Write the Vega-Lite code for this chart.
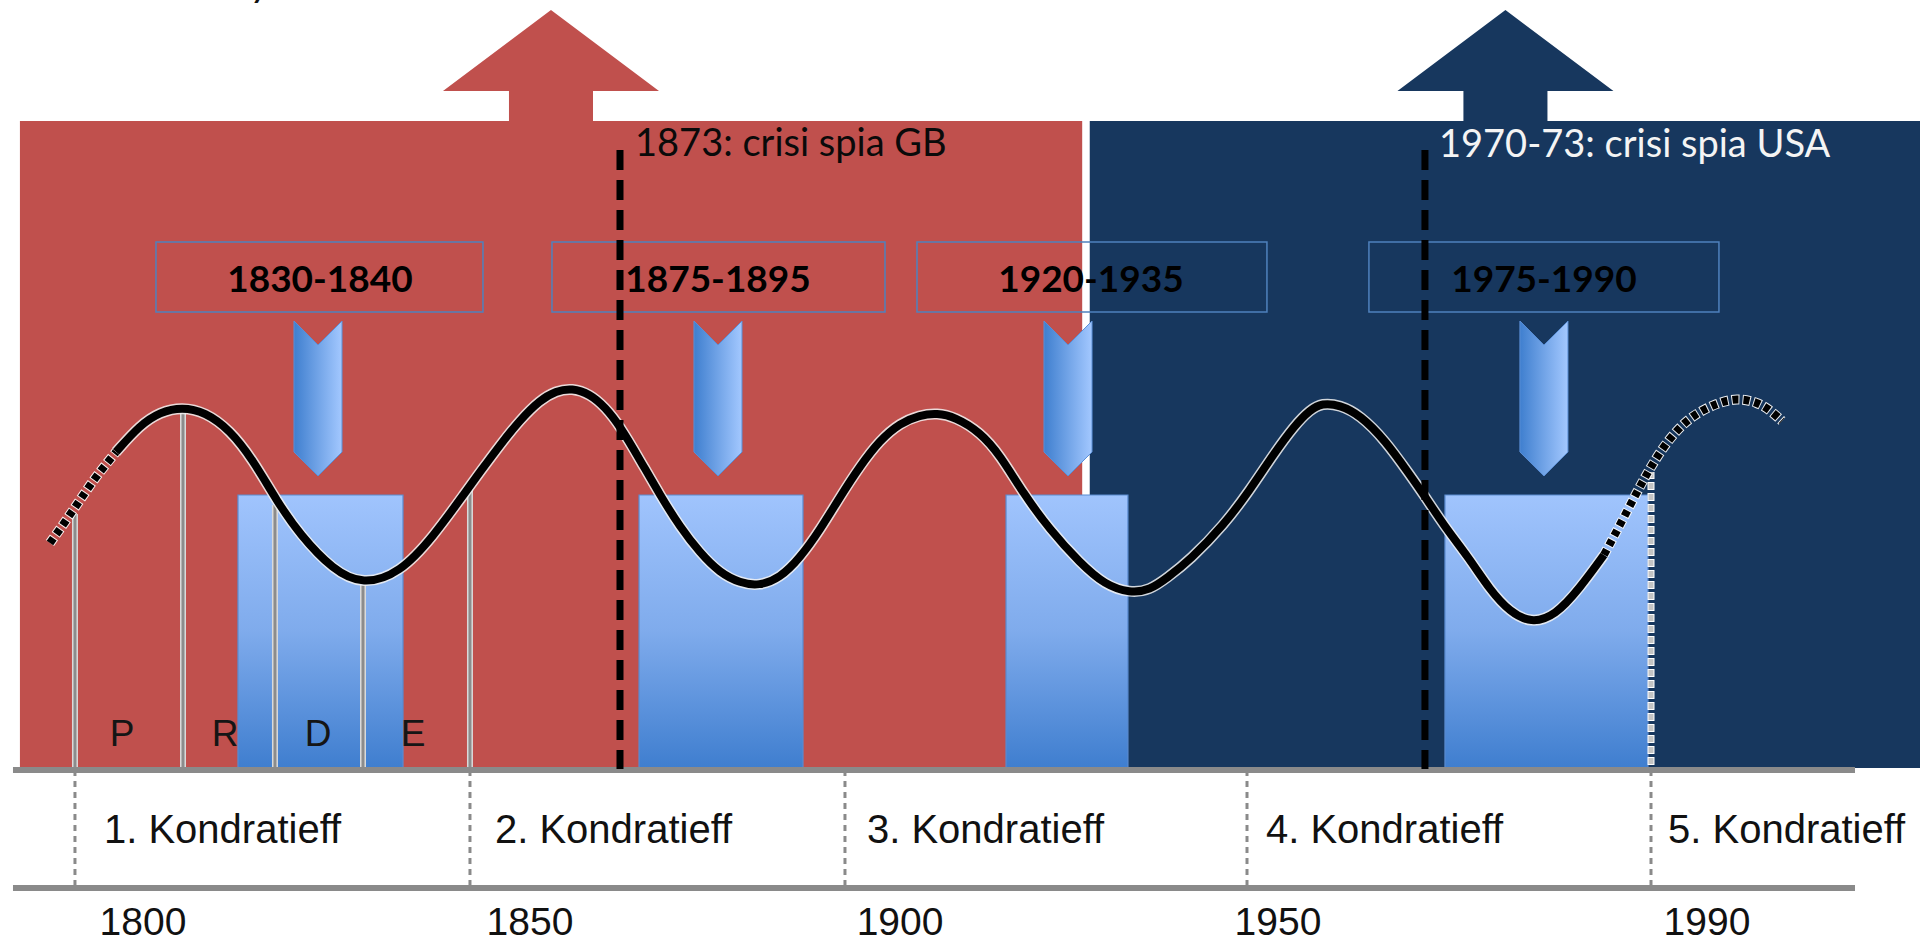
{
  "$schema": "https://vega.github.io/schema/vega-lite/v6.json",
  "width": 1920,
  "height": 943,
  "autosize": "none",
  "padding": 0,
  "background": "white",
  "config": {"view": {"stroke": null}},
  "datasets": {
    "arrows": [
      {"region": "GB", "x": 1853.84, "y": 92.84},
      {"region": "USA", "x": 1980.26, "y": 92.84}
    ],
    "regions": [
      {"region": "GB", "x": 1783.5, "x2": 1924.2, "y": 87.17, "y2": 18.66},
      {"region": "USA", "x": 1925.2, "x2": 2035.17, "y": 87.17, "y2": 18.56}
    ],
    "crisisBoxes": [
      {"x": 1812.38, "x2": 1834.24, "y": 47.51, "y2": 18.56},
      {"x": 1865.50, "x2": 1887.22, "y": 47.51, "y2": 18.56},
      {"x": 1914.11, "x2": 1930.26, "y": 47.51, "y2": 18.56},
      {"x": 1972.25, "x2": 1999.14, "y": 47.51, "y2": 18.56}
    ],
    "phaseLines": [
      {"x": 1790.79, "y": 45.49, "y2": 18.35},
      {"x": 1805.10, "y": 56.84, "y2": 18.35},
      {"x": 1817.28, "y": 46.45, "y2": 18.35},
      {"x": 1828.94, "y": 37.96, "y2": 18.35},
      {"x": 1843.11, "y": 48.46, "y2": 18.35}
    ],
    "phaseLetters": [
      {"label": "P", "x": 1797.02, "y": 20.89},
      {"label": "R", "x": 1810.66, "y": 20.89},
      {"label": "D", "x": 1822.98, "y": 20.89},
      {"label": "E", "x": 1835.56, "y": 20.89}
    ],
    "separators": [
      {"x": 1790.79, "y": 18.35, "y2": 5.83},
      {"x": 1843.11, "y": 18.35, "y2": 5.83},
      {"x": 1892.78, "y": 18.35, "y2": 5.83},
      {"x": 1946.03, "y": 18.35, "y2": 5.83},
      {"x": 1999.54, "y": 18.35, "y2": 5.83}
    ],
    "future": [
      {"x": 1999.54, "y": 49.95, "y2": 18.35}
    ],
    "baselines": [
      {"x": 1782.58, "x2": 2026.56, "y": 18.35},
      {"x": 1782.58, "x2": 2026.56, "y": 5.83}
    ],
    "labelBoxes": [
      {"x": 1801.52, "x2": 1844.83, "y": 74.34, "y2": 66.91},
      {"x": 1853.97, "x2": 1898.08, "y": 74.34, "y2": 66.91},
      {"x": 1902.32, "x2": 1948.67, "y": 74.34, "y2": 66.91},
      {"x": 1962.18, "x2": 2008.54, "y": 74.34, "y2": 66.91}
    ],
    "periods": [
      {"label": "1830-1840", "x": 1823.24, "y": 69.03},
      {"label": "1875-1895", "x": 1875.96, "y": 69.03},
      {"label": "1920-1935", "x": 1925.36, "y": 69.03},
      {"label": "1975-1990", "x": 1985.36, "y": 69.03}
    ],
    "chevrons": [
      {"x": 1822.98, "y": 57.74},
      {"x": 1875.96, "y": 57.74},
      {"x": 1922.32, "y": 57.74},
      {"x": 1985.36, "y": 57.74}
    ],
    "curve": [
      {"s": "pre", "x": 1787.48, "y": 42.42},
      {"s": "pre", "x": 1789.47, "y": 44.64},
      {"s": "pre", "x": 1791.46, "y": 46.98},
      {"s": "pre", "x": 1793.44, "y": 49.31},
      {"s": "pre", "x": 1795.16, "y": 51.01},
      {"s": "pre", "x": 1796.22, "y": 52.07},
      {"s": "main", "x": 1796.22, "y": 52.07},
      {"s": "main", "x": 1799.40, "y": 54.93},
      {"s": "main", "x": 1802.05, "y": 56.31},
      {"s": "main", "x": 1804.97, "y": 56.84},
      {"s": "main", "x": 1808.01, "y": 56.31},
      {"s": "main", "x": 1811.32, "y": 54.40},
      {"s": "main", "x": 1814.37, "y": 51.22},
      {"s": "main", "x": 1817.55, "y": 46.84},
      {"s": "main", "x": 1820.60, "y": 43.28},
      {"s": "main", "x": 1824.97, "y": 39.55},
      {"s": "main", "x": 1828.94, "y": 37.96},
      {"s": "main", "x": 1833.84, "y": 39.24},
      {"s": "main", "x": 1838.21, "y": 43.05},
      {"s": "main", "x": 1842.71, "y": 48.04},
      {"s": "main", "x": 1844.44, "y": 49.95},
      {"s": "main", "x": 1847.09, "y": 52.81},
      {"s": "main", "x": 1849.73, "y": 55.46},
      {"s": "main", "x": 1852.38, "y": 57.58},
      {"s": "main", "x": 1854.50, "y": 58.54},
      {"s": "main", "x": 1856.62, "y": 58.85},
      {"s": "main", "x": 1859.01, "y": 58.22},
      {"s": "main", "x": 1860.99, "y": 56.84},
      {"s": "main", "x": 1862.98, "y": 54.83},
      {"s": "main", "x": 1865.63, "y": 51.22},
      {"s": "main", "x": 1868.28, "y": 47.51},
      {"s": "main", "x": 1870.93, "y": 44.11},
      {"s": "main", "x": 1873.58, "y": 41.36},
      {"s": "main", "x": 1876.22, "y": 39.24},
      {"s": "main", "x": 1878.87, "y": 38.18},
      {"s": "main", "x": 1881.39, "y": 37.86},
      {"s": "main", "x": 1884.17, "y": 38.71},
      {"s": "main", "x": 1886.82, "y": 40.83},
      {"s": "main", "x": 1889.47, "y": 43.80},
      {"s": "main", "x": 1892.12, "y": 47.30},
      {"s": "main", "x": 1894.77, "y": 50.58},
      {"s": "main", "x": 1897.42, "y": 53.34},
      {"s": "main", "x": 1900.07, "y": 55.14},
      {"s": "main", "x": 1902.71, "y": 55.99},
      {"s": "main", "x": 1904.97, "y": 56.20},
      {"s": "main", "x": 1907.35, "y": 55.78},
      {"s": "main", "x": 1910.66, "y": 54.19},
      {"s": "main", "x": 1913.31, "y": 51.75},
      {"s": "main", "x": 1916.36, "y": 47.72},
      {"s": "main", "x": 1919.93, "y": 43.80},
      {"s": "main", "x": 1923.91, "y": 40.30},
      {"s": "main", "x": 1927.22, "y": 37.96},
      {"s": "main", "x": 1930.53, "y": 37.12},
      {"s": "main", "x": 1933.18, "y": 37.43},
      {"s": "main", "x": 1935.43, "y": 38.71},
      {"s": "main", "x": 1938.48, "y": 40.62},
      {"s": "main", "x": 1942.98, "y": 44.33},
      {"s": "main", "x": 1946.42, "y": 48.04},
      {"s": "main", "x": 1949.47, "y": 51.75},
      {"s": "main", "x": 1952.38, "y": 54.93},
      {"s": "main", "x": 1954.37, "y": 56.52},
      {"s": "main", "x": 1955.96, "y": 57.26},
      {"s": "main", "x": 1958.34, "y": 57.05},
      {"s": "main", "x": 1960.99, "y": 55.99},
      {"s": "main", "x": 1964.30, "y": 53.34},
      {"s": "main", "x": 1967.61, "y": 49.63},
      {"s": "main", "x": 1969.47, "y": 47.51},
      {"s": "main", "x": 1972.25, "y": 44.11},
      {"s": "main", "x": 1975.43, "y": 40.83},
      {"s": "main", "x": 1978.21, "y": 37.43},
      {"s": "main", "x": 1980.86, "y": 35.10},
      {"s": "main", "x": 1983.64, "y": 33.93},
      {"s": "main", "x": 1986.82, "y": 34.68},
      {"s": "main", "x": 1990.13, "y": 37.65},
      {"s": "main", "x": 1993.31, "y": 41.15},
      {"s": "post", "x": 1993.31, "y": 41.15},
      {"s": "post", "x": 1995.43, "y": 44.33},
      {"s": "post", "x": 1997.68, "y": 47.83},
      {"s": "post", "x": 1999.14, "y": 49.95},
      {"s": "post", "x": 2000.73, "y": 52.07},
      {"s": "post", "x": 2002.71, "y": 54.19},
      {"s": "post", "x": 2005.10, "y": 55.99},
      {"s": "post", "x": 2008.28, "y": 57.26},
      {"s": "post", "x": 2010.93, "y": 57.79},
      {"s": "post", "x": 2013.58, "y": 57.37},
      {"s": "post", "x": 2015.30, "y": 56.52},
      {"s": "post", "x": 2016.89, "y": 55.36}
    ],
    "crises": [
      {"region": "GB", "x": 1862.98, "y": 84.09, "y2": 18.45},
      {"region": "USA", "x": 1969.60, "y": 84.09, "y2": 18.45}
    ],
    "crisisNotes": [
      {"region": "GB", "label": "1873: crisi spia GB", "x": 1864.97, "y": 83.46},
      {"region": "USA", "label": "1970-73: crisi spia USA", "x": 1971.46, "y": 83.35}
    ],
    "waves": [
      {"label": "1. Kondratieff", "x": 1794.63, "y": 10.60},
      {"label": "2. Kondratieff", "x": 1846.42, "y": 10.60},
      {"label": "3. Kondratieff", "x": 1895.69, "y": 10.60},
      {"label": "4. Kondratieff", "x": 1948.54, "y": 10.60},
      {"label": "5. Kondratieff", "x": 2001.79, "y": 10.60}
    ],
    "years": [
      {"label": "1800", "x": 1799.80, "y": 0.85},
      {"label": "1850", "x": 1851.06, "y": 0.85},
      {"label": "1900", "x": 1900.07, "y": 0.85},
      {"label": "1950", "x": 1950.13, "y": 0.85},
      {"label": "1990", "x": 2006.95, "y": 0.85}
    ],
    "title": [
      {"label": "y", "x": 1815.5, "y": 100.4}
    ]
  },
  "encoding": {
    "x": {"field": "x", "type": "quantitative", "scale": {"domain": [1780.86, 2035.17], "nice": false, "zero": false}, "axis": null},
    "y": {"field": "y", "type": "quantitative", "scale": {"domain": [0, 100], "nice": false, "zero": false}, "axis": null}
  },
  "layer": [
    {
      "data": {"name": "title"},
      "mark": {"type": "text", "font": "Lato", "fontSize": 40, "fontStyle": "italic", "align": "center", "baseline": "alphabetic", "color": "#111111"},
      "encoding": {"text": {"field": "label"}}
    },
    {
      "data": {"name": "arrows"},
      "mark": {"type": "point", "shape": "M 0 -0.532 L 1 0.218 L 0.389 0.218 L 0.389 0.54 L -0.389 0.54 L -0.389 0.218 L -1 0.218 Z", "size": 46656, "filled": true, "opacity": 1, "strokeWidth": 0},
      "encoding": {"color": {"field": "region", "type": "nominal", "scale": {"domain": ["GB", "USA"], "range": ["#C0504D", "#17375E"]}, "legend": null}}
    },
    {
      "data": {"name": "regions"},
      "mark": {"type": "rect"},
      "encoding": {
        "x2": {"field": "x2"},
        "y2": {"field": "y2"},
        "color": {"field": "region", "type": "nominal", "scale": {"domain": ["GB", "USA"], "range": ["#C0504D", "#17375E"]}, "legend": null}
      }
    },
    {
      "data": {"name": "crisisBoxes"},
      "mark": {"type": "rect", "stroke": "#5a8bd0", "strokeWidth": 1.2, "fill": {"gradient": "linear", "x1": 0, "y1": 0, "x2": 0, "y2": 1, "stops": [{"offset": 0, "color": "#a0c4fd"}, {"offset": 0.5, "color": "#7fabec"}, {"offset": 1, "color": "#3f7ecf"}]}},
      "encoding": {"x2": {"field": "x2"}, "y2": {"field": "y2"}}
    },
    {
      "data": {"name": "phaseLines"},
      "mark": {"type": "rule", "color": "#dadada", "strokeWidth": 6},
      "encoding": {"y2": {"field": "y2"}}
    },
    {
      "data": {"name": "phaseLines"},
      "mark": {"type": "rule", "color": "#8c8c8c", "strokeWidth": 3},
      "encoding": {"y2": {"field": "y2"}}
    },
    {
      "data": {"name": "phaseLetters"},
      "mark": {"type": "text", "font": "Liberation Sans", "fontSize": 37, "align": "center", "baseline": "alphabetic", "color": "#151515"},
      "encoding": {"text": {"field": "label"}}
    },
    {
      "data": {"name": "separators"},
      "mark": {"type": "rule", "color": "#8a8a8a", "strokeWidth": 3, "strokeDash": [6, 5]},
      "encoding": {"y2": {"field": "y2"}}
    },
    {
      "data": {"name": "future"},
      "mark": {"type": "rule", "color": "#ffffff", "strokeWidth": 7, "strokeDash": [8, 3], "strokeDashOffset": 1},
      "encoding": {"y2": {"field": "y2"}}
    },
    {
      "data": {"name": "future"},
      "mark": {"type": "rule", "color": "#c4c4c4", "strokeWidth": 5, "strokeDash": [6, 5]},
      "encoding": {"y2": {"field": "y2"}}
    },
    {
      "data": {"name": "baselines"},
      "mark": {"type": "rule", "color": "#8a8a8a", "strokeWidth": 6},
      "encoding": {"x2": {"field": "x2"}}
    },
    {
      "data": {"name": "labelBoxes"},
      "mark": {"type": "rect", "fill": null, "fillOpacity": 0, "stroke": "#4F81BD", "strokeWidth": 1.5},
      "encoding": {"x2": {"field": "x2"}, "y2": {"field": "y2"}}
    },
    {
      "data": {"name": "periods"},
      "mark": {"type": "text", "font": "Lato", "fontWeight": "bold", "fontSize": 37, "align": "center", "baseline": "alphabetic", "color": "#000000"},
      "encoding": {"text": {"field": "label"}}
    },
    {
      "data": {"name": "chevrons"},
      "mark": {"type": "point", "shape": "M -0.31 -1 L 0 -0.69 L 0.31 -1 L 0.31 0.69 L 0 1 L -0.31 0.69 Z", "size": 24025, "filled": true, "opacity": 1, "stroke": "#5b8fd6", "strokeWidth": 1, "fill": {"gradient": "linear", "x1": 0, "y1": 0, "x2": 1, "y2": 0, "stops": [{"offset": 0, "color": "#3f7fcf"}, {"offset": 1, "color": "#a3c8ff"}]}},
      "encoding": {}
    },
    {
      "data": {"name": "curve"},
      "transform": [{"filter": "datum.s === 'main'"}],
      "mark": {"type": "line", "color": "#f2f2f2", "strokeWidth": 11, "interpolate": "basis", "opacity": 0.85},
      "encoding": {}
    },
    {
      "data": {"name": "curve"},
      "transform": [{"filter": "datum.s === 'main'"}],
      "mark": {"type": "line", "color": "#000000", "strokeWidth": 8, "interpolate": "basis"},
      "encoding": {}
    },
    {
      "data": {"name": "curve"},
      "transform": [{"filter": "datum.s !== 'main'"}],
      "mark": {"type": "line", "color": "#ffffff", "strokeWidth": 10, "strokeDash": [8, 3], "strokeDashOffset": 1, "interpolate": "basis", "opacity": 0.9},
      "encoding": {"detail": {"field": "s"}}
    },
    {
      "data": {"name": "curve"},
      "transform": [{"filter": "datum.s !== 'main'"}],
      "mark": {"type": "line", "color": "#000000", "strokeWidth": 8, "strokeDash": [6, 5], "interpolate": "basis"},
      "encoding": {"detail": {"field": "s"}}
    },
    {
      "data": {"name": "crises"},
      "mark": {"type": "rule", "color": "#000000", "strokeWidth": 7, "strokeDash": [20, 10]},
      "encoding": {"y2": {"field": "y2"}}
    },
    {
      "data": {"name": "crisisNotes"},
      "transform": [{"filter": "datum.region === 'GB'"}],
      "mark": {"type": "text", "font": "Lato", "fontSize": 38, "align": "left", "baseline": "alphabetic", "color": "#0a0a0a"},
      "encoding": {"text": {"field": "label"}}
    },
    {
      "data": {"name": "crisisNotes"},
      "transform": [{"filter": "datum.region === 'USA'"}],
      "mark": {"type": "text", "font": "Lato", "fontSize": 38, "align": "left", "baseline": "alphabetic", "color": "#f4f4f4"},
      "encoding": {"text": {"field": "label"}}
    },
    {
      "data": {"name": "waves"},
      "mark": {"type": "text", "font": "Liberation Sans", "fontSize": 40, "align": "left", "baseline": "alphabetic", "color": "#111111"},
      "encoding": {"text": {"field": "label"}}
    },
    {
      "data": {"name": "years"},
      "mark": {"type": "text", "font": "Liberation Sans", "fontSize": 39, "align": "center", "baseline": "alphabetic", "color": "#111111"},
      "encoding": {"text": {"field": "label"}}
    }
  ]
}
